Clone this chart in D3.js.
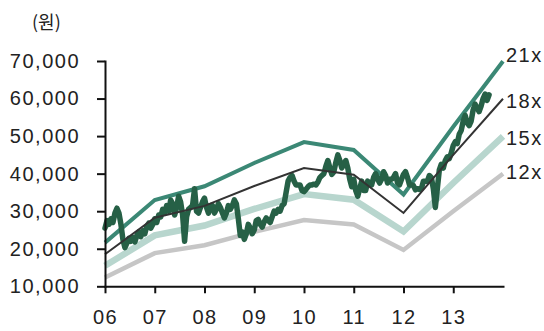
<!DOCTYPE html>
<html>
<head>
<meta charset="utf-8">
<script src="https://cdn.jsdelivr.net/npm/d3@7/dist/d3.min.js"></script>
<style>
  html, body { margin: 0; padding: 0; background: #fff; }
  svg { display: block; }
  .axis text { font-family: "Liberation Sans", Arial, sans-serif; font-size: 20px; letter-spacing: 1.5px; fill: #222; }
  .axis path, .axis line { stroke: #111; stroke-width: 2px; }
</style>
</head>
<body>
<svg id="chart" width="544" height="331"></svg>
<script>
// Yearly EPS basis (won) used for the PER band, at the start of each year
const bandYears = [2006, 2007, 2008, 2009, 2010, 2011, 2012, 2013, 2014];
const eps = [1030, 1570, 1745, 2040, 2305, 2205, 1640, 2500, 3330];

// PER multiples and their labels
const multiples = [12, 15, 18, 21];
const bandLabels = ["12x", "15x", "18x", "21x"];

// Share price (won), sampled every 0.04 year from the start of 2006
const priceStart = 2006;
const priceStep = 0.04;
const price = [
  25500, 27500, 26500, 28000, 27000, 29500, 30800, 29500, 26500, 22500,
  20300, 21500, 22800, 22000, 23000, 21800, 23500, 24500, 23200, 24800,
  24000, 26000, 26800, 25500, 26500, 28000, 27000, 29000, 28500, 30500,
  29500, 31500, 30000, 33000, 32000, 29000, 31000, 34000, 32500, 29000,
  22000, 28500, 30500, 31000, 31500, 36000, 30000, 29500, 31000, 32500,
  33500, 31000, 29500, 31500, 31500, 29500, 30500, 32000, 31000, 29500,
  28200, 29500, 31500, 30500, 31500, 33000, 32000, 28000, 23500, 24500,
  22500, 24000, 26500, 25500, 24000, 25000, 27500, 27800, 26500, 25800,
  27200, 28200, 27500, 27000, 28500, 30000, 29500, 30500, 30000, 31500,
  32000, 35000, 38000, 39000, 39500, 38000, 37000, 37000, 37000, 35500,
  35200, 35800, 36500, 37000, 37000, 37200, 37000, 37800, 39000, 39500,
  40000, 42000, 43500, 41500, 39800, 40500, 43000, 45000, 43500, 41500,
  42500, 43500, 41500, 38500, 36500, 38500, 35500, 34000, 36000, 38000,
  35500, 35500, 38000, 37500, 37000, 39000, 40000, 38500, 37500, 38500,
  40500, 39500, 37500, 38500, 38500, 39000, 40000, 37500, 37000, 38500,
  39800, 40500, 39000, 37000, 37000, 36800, 35700, 36000, 35800, 36000,
  38000, 38000, 38000, 39500, 39000, 36000, 31000, 36000, 41000, 42500,
  41500, 43500, 44500, 44000, 45500, 47500, 48500, 48000, 50500, 51500,
  54000, 55500, 53500, 52800, 54000, 57000, 58500, 57500, 56500, 58000,
  60000, 61200, 59500, 61000
];

// Axis ticks
const yTicks = [10000, 20000, 30000, 40000, 50000, 60000, 70000];
const xTickYears = [2006, 2007, 2008, 2009, 2010, 2011, 2012, 2013];
const xTickLabels = ["06", "07", "08", "09", "10", "11", "12", "13"];
const unitLabel = "(원)";

const svg = d3.select("#chart");

const x = d3.scaleLinear().domain([2006, 2014]).range([105, 503]);
const y = d3.scaleLinear().domain([10000, 70000]).range([286.3, 61]);

// Band line styles, bottom to top
const bandStyle = {
  12: { color: "#c6c6c6", width: 4.5 },
  15: { color: "#b8d6ce", width: 6.5 },
  18: { color: "#333333", width: 2 },
  21: { color: "#3b8875", width: 4 }
};

const line = d3.line().x(d => x(d[0])).y(d => y(d[1]));

function bandData(m) {
  return bandYears.map((yr, i) => [yr, eps[i] * m]);
}

function drawBand(m) {
  svg.append("path")
    .datum(bandData(m))
    .attr("d", line)
    .attr("fill", "none")
    .attr("stroke", bandStyle[m].color)
    .attr("stroke-width", bandStyle[m].width)
    .attr("stroke-linejoin", "miter");
}

drawBand(12);
drawBand(15);
drawBand(21);

// Share price
const priceData = price.map((v, i) => [priceStart + i * priceStep, v]);
svg.append("path")
  .datum(priceData)
  .attr("d", line)
  .attr("fill", "none")
  .attr("stroke", "#266046")
  .attr("stroke-width", 5.5)
  .attr("stroke-linejoin", "round")
  .attr("stroke-linecap", "round");

drawBand(18);

// Axes
const yAxis = d3.axisLeft(y)
  .tickValues(yTicks)
  .tickFormat(d3.format(","))
  .tickSize(8)
  .tickSizeOuter(0)
  .tickPadding(17);
svg.append("g")
  .attr("class", "axis")
  .attr("transform", `translate(${x.range()[0]},0)`)
  .call(yAxis);

const xAxis = d3.axisBottom(x)
  .tickValues(xTickYears)
  .tickFormat((d, i) => xTickLabels[i])
  .tickSize(7)
  .tickSizeOuter(0)
  .tickPadding(17);
svg.append("g")
  .attr("class", "axis")
  .attr("transform", `translate(0,${y.range()[0]})`)
  .call(xAxis);

svg.selectAll(".axis .domain").attr("stroke-linecap", "square");

// Band labels at the right end of each line
const labelDy = { 12: 5, 15: 9, 18: 9, 21: 1 };
multiples.forEach((m, i) => {
  const last = bandData(m)[bandYears.length - 1];
  svg.append("text")
    .attr("x", x(last[0]) + 3)
    .attr("y", y(last[1]) + labelDy[m])
    .attr("font-family", "Liberation Sans, Arial, sans-serif")
    .attr("font-size", 20)
    .attr("letter-spacing", 1.5)
    .attr("fill", "#222")
    .text(bandLabels[i]);
});

// Unit label
svg.append("text")
  .attr("x", 32)
  .attr("y", 29)
  .attr("font-family", "Noto Sans CJK KR, sans-serif")
  .attr("font-size", 18)
  .attr("fill", "#222")
  .text(unitLabel);
</script>
</body>
</html>
